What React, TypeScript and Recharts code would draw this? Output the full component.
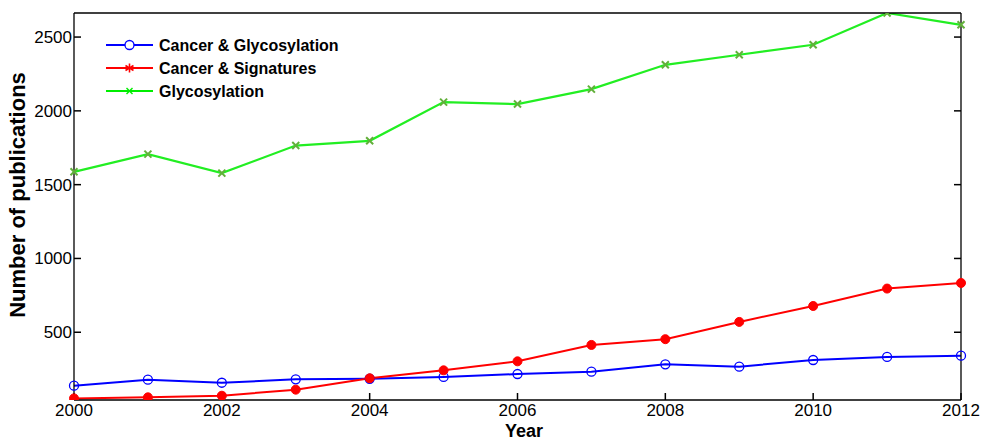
import React from 'react';
import { LineChart, Line, XAxis, YAxis, Label } from 'recharts';

const years = [2000, 2001, 2002, 2003, 2004, 2005, 2006, 2007, 2008, 2009, 2010, 2011, 2012];
const cancerGlyco = [138, 179, 158, 181, 185, 197, 217, 233, 283, 267, 312, 333, 341];
const cancerSig = [52, 59, 70, 111, 188, 242, 303, 414, 453, 570, 678, 796, 834];
const glyco = [1587, 1707, 1578, 1765, 1797, 2059, 2046, 2147, 2312, 2380, 2448, 2663, 2583];

const xTicks = [2000, 2002, 2004, 2006, 2008, 2010, 2012];
const yTicks = [500, 1000, 1500, 2000, 2500];
const yDomain = [41, 2663];

const data = years.map((year, i) => ({
    year,
    cg: cancerGlyco[i],
    cs: cancerSig[i],
    g: glyco[i],
}));

const FONT = '"Liberation Sans", Arial, Helvetica, sans-serif';
const GREEN_MARK = '#62b03a';

// green "x" marker
const CrossDot = (props: any) => {
    const { cx, cy, index } = props;
    if (cx == null || cy == null) return null;
    const s = 3.5;
    return (
        <g key={`x-${index}`}>
            <line x1={cx - s} y1={cy - s} x2={cx + s} y2={cy + s} stroke={GREEN_MARK} strokeWidth={2} />
            <line x1={cx - s} y1={cy + s} x2={cx + s} y2={cy - s} stroke={GREEN_MARK} strokeWidth={2} />
        </g>
    );
};

// mirrored axes only need the tick marks, no labels
const NoLabel = () => <g />;

const legendRows = [
    { key: 'cg', name: 'Cancer & Glycosylation', color: '#0000ff' },
    { key: 'cs', name: 'Cancer & Signatures', color: '#ff0000' },
    { key: 'g', name: 'Glycosylation', color: '#00ee00' },
];

const LegendBox = () => (
    <svg width={280} height={70} style={{ display: 'block', fontFamily: FONT }}>
        {legendRows.map((row, i) => {
            const y = 12 + i * 23;
            const mx = 29.5;
            return (
                <g key={row.key}>
                    <line x1={6} y1={y} x2={53} y2={y} stroke={row.color} strokeWidth={2} />
                    {row.key === 'cg' && <circle cx={mx} cy={y} r={4.5} fill="#fff" stroke={row.color} strokeWidth={1.3} />}
                    {row.key === 'cs' && (
                        <g stroke={row.color} strokeWidth={1.6}>
                            <line x1={mx} y1={y - 4.5} x2={mx} y2={y + 4.5} />
                            <line x1={mx - 4} y1={y - 2.5} x2={mx + 4} y2={y + 2.5} />
                            <line x1={mx - 4} y1={y + 2.5} x2={mx + 4} y2={y - 2.5} />
                        </g>
                    )}
                    {row.key === 'g' && (
                        <g stroke={row.color} strokeWidth={1.4}>
                            <line x1={mx - 3} y1={y - 3} x2={mx + 3} y2={y + 3} />
                            <line x1={mx - 3} y1={y + 3} x2={mx + 3} y2={y - 3} />
                        </g>
                    )}
                    <text x={59} y={y + 6} fontSize={16} fontWeight="bold" fill="#000">
                        {row.name}
                    </text>
                </g>
            );
        })}
    </svg>
);

const tickStyle = { fontSize: 17, fill: '#000', fontFamily: FONT };
const axisLine = { stroke: '#000', strokeWidth: 1.3 };
const tickLine = { stroke: '#000', strokeWidth: 1.5 };

export default function App() {
    return (
        <div style={{ position: 'absolute', left: 0, top: 0, width: 985, height: 441, background: '#fff' }}>
            <LineChart
                width={985}
                height={441}
                data={data}
                margin={{ top: 12, right: 23, bottom: 40, left: 73 }}
                style={{ fontFamily: FONT }}
            >
                <XAxis
                    dataKey="year"
                    type="number"
                    domain={[2000, 2012]}
                    ticks={xTicks}
                    height={1}
                    tickSize={-7}
                    tickMargin={11}
                    tick={tickStyle}
                    axisLine={axisLine}
                    tickLine={tickLine}
                    interval={0}
                >
                    <Label
                        content={() => (
                            <text x={524} y={437} textAnchor="middle" fontSize={18} fontWeight="bold" fill="#000" fontFamily={FONT}>
                                Year
                            </text>
                        )}
                    />
                </XAxis>
                <XAxis
                    xAxisId="top"
                    orientation="top"
                    type="number"
                    domain={[2000, 2012]}
                    ticks={xTicks}
                    height={1}
                    tickSize={-7}
                    tick={<NoLabel />}
                    axisLine={axisLine}
                    tickLine={tickLine}
                    allowDataOverflow
                    interval={0}
                />
                <YAxis
                    type="number"
                    domain={yDomain}
                    ticks={yTicks}
                    width={1}
                    tickSize={-7}
                    tickMargin={9}
                    tick={tickStyle}
                    axisLine={axisLine}
                    tickLine={tickLine}
                    allowDataOverflow
                    interval={0}
                >
                    <Label
                        content={() => (
                            <text
                                x={25}
                                y={195}
                                transform="rotate(-90, 25, 195)"
                                textAnchor="middle"
                                fontSize={22}
                                fontWeight="bold"
                                fill="#000"
                                fontFamily={FONT}
                            >
                                Number of publications
                            </text>
                        )}
                    />
                </YAxis>
                <YAxis
                    yAxisId="right"
                    orientation="right"
                    type="number"
                    domain={yDomain}
                    ticks={yTicks}
                    width={1}
                    tickSize={-7}
                    tick={<NoLabel />}
                    axisLine={axisLine}
                    tickLine={tickLine}
                    allowDataOverflow
                    interval={0}
                />
                <Line
                    dataKey="cg"
                    name="Cancer & Glycosylation"
                    stroke="#0000ff"
                    strokeWidth={2}
                    dot={{ r: 4.5, fill: 'none', stroke: '#0000ff', strokeWidth: 1.3 }}
                    isAnimationActive={false}
                />
                <Line
                    dataKey="cs"
                    name="Cancer & Signatures"
                    stroke="#ff0000"
                    strokeWidth={2}
                    dot={{ r: 4.5, fill: '#ff0000', stroke: '#ff0000', strokeWidth: 1 }}
                    isAnimationActive={false}
                />
                <Line
                    dataKey="g"
                    name="Glycosylation"
                    stroke="#22ee22"
                    strokeWidth={2.2}
                    dot={<CrossDot />}
                    isAnimationActive={false}
                />
            </LineChart>
            <div style={{ position: 'absolute', left: 100, top: 33 }}>
                <LegendBox />
            </div>
        </div>
    );
}
